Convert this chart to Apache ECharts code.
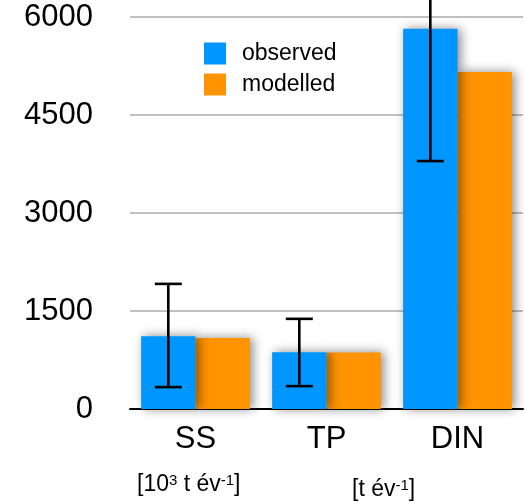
<!DOCTYPE html>
<html>
<head>
<meta charset="utf-8">
<script src="https://cdn.jsdelivr.net/npm/echarts@6/dist/echarts.min.js"></script>
<style>html,body{margin:0;padding:0;background:#fff;}#c{width:525px;height:504px;}</style>
</head>
<body>
<div id="c"></div>
<script>
const categories = ['SS', 'TP', 'DIN'];
const observed = [1115, 870, 5820];
const modelled = [1085, 865, 5160];
const obsLow = [335, 350, 3795];
const obsHigh = [1915, 1380, 7860];
const yTicks = [0, 1500, 3000, 4500, 6000];

const FONT = '"Liberation Sans", Arial, Helvetica, sans-serif';
const CAT_GAP = 0.17;

const chart = echarts.init(document.getElementById('c'), null, {renderer: 'canvas'});
const barShadow = {shadowBlur: 10, shadowColor: 'rgba(0,0,0,0.45)', shadowOffsetX: 3, shadowOffsetY: 0};
const unitRich = {
  a: {fontSize: 23, fontFamily: FONT, fill: '#000', verticalAlign: 'bottom'},
  s: {fontSize: 15, fontFamily: FONT, fill: '#000', verticalAlign: 'top'}
};

chart.setOption({
  animation: false,
  backgroundColor: '#fff',
  textStyle: {fontFamily: FONT},
  grid: {left: 130, right: 2, top: 17, bottom: 95, containLabel: false},
  legend: {
    data: ['observed', 'modelled'],
    orient: 'vertical',
    left: 204, top: 42,
    padding: 0,
    itemWidth: 22, itemHeight: 22, itemGap: 8,
    icon: 'rect',
    itemStyle: {shadowBlur: 0, shadowColor: 'transparent', shadowOffsetX: 0},
    textStyle: {fontSize: 23, color: '#000', fontFamily: FONT, padding: [0, 0, 0, 11]}
  },
  xAxis: {
    type: 'category',
    data: categories,
    axisLine: {lineStyle: {color: '#000', width: 2}},
    axisTick: {show: false},
    axisLabel: {fontSize: 31, color: '#000', margin: 15, fontFamily: FONT}
  },
  yAxis: {
    type: 'value',
    min: yTicks[0], max: yTicks[yTicks.length - 1], interval: yTicks[1] - yTicks[0],
    axisLine: {show: false},
    axisTick: {show: false},
    axisLabel: {fontSize: 31, color: '#000', margin: 37, fontFamily: FONT, formatter: v => String(v)},
    splitLine: {lineStyle: {color: '#c0c0c0', width: 2}}
  },
  series: [
    {
      name: 'observed', type: 'bar', data: observed,
      barGap: 0, barCategoryGap: (CAT_GAP * 100) + '%',
      z: 3,
      itemStyle: Object.assign({color: '#0096ff'}, barShadow)
    },
    {
      name: 'modelled', type: 'bar', data: modelled,
      barGap: 0, barCategoryGap: (CAT_GAP * 100) + '%',
      z: 2,
      itemStyle: Object.assign({color: '#ff9300'}, barShadow)
    },
    {
      name: 'err', type: 'custom', clip: false, z: 5, silent: true,
      data: categories.map((c, i) => [i, obsLow[i], obsHigh[i]]),
      encode: {x: 0, y: [1, 2]},
      renderItem: function (params, api) {
        const i = api.value(0);
        const lo = api.coord([i, api.value(1)]);
        const hi = api.coord([i, api.value(2)]);
        const band = api.size([1, 0])[0];
        const bw = band * (1 - CAT_GAP) / 2;
        const x = lo[0] - bw / 2;
        const hw = 13.5;
        const st = {stroke: '#000', lineWidth: 2.6};
        return {
          type: 'group',
          children: [
            {type: 'line', shape: {x1: x, y1: lo[1], x2: x, y2: hi[1]}, style: st},
            {type: 'line', shape: {x1: x - hw, y1: lo[1], x2: x + hw, y2: lo[1]}, style: st},
            {type: 'line', shape: {x1: x - hw, y1: hi[1], x2: x + hw, y2: hi[1]}, style: st}
          ]
        };
      }
    }
  ],
  graphic: [
    {
      type: 'text', left: 137, top: 473,
      style: {text: '{a|[10}{s|3}{a| t év}{s|-1}{a|]}', rich: unitRich}
    },
    {
      type: 'text', left: 352, top: 478,
      style: {text: '{a|[t év}{s|-1}{a|]}', rich: unitRich}
    }
  ]
});
</script>
</body>
</html>
